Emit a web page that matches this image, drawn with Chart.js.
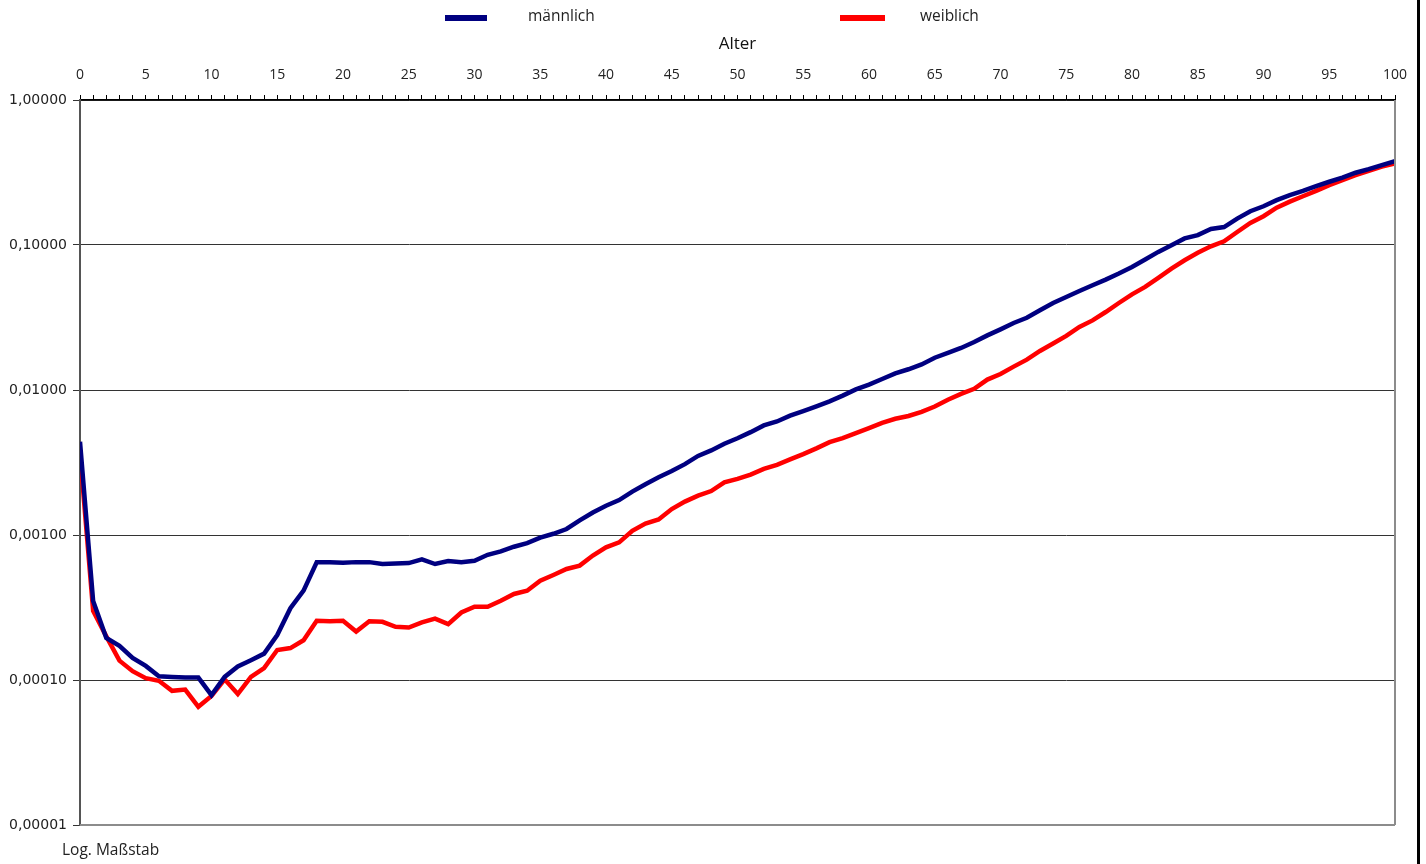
<!DOCTYPE html>
<html><head><meta charset="utf-8">
<script src="https://cdn.jsdelivr.net/npm/chart.js@4"></script>
<style>html,body{margin:0;padding:0;background:#fff;}#wrap{position:relative;width:1426px;height:864px;}</style>
</head><body><div id="wrap"><canvas id="c" width="1426" height="864"></canvas></div>
<script>
const ages = [0,1,2,3,4,5,6,7,8,9,10,11,12,13,14,15,16,17,18,19,20,21,22,23,24,25,26,27,28,29,30,31,32,33,34,35,36,37,38,39,40,41,42,43,44,45,46,47,48,49,50,51,52,53,54,55,56,57,58,59,60,61,62,63,64,65,66,67,68,69,70,71,72,73,74,75,76,77,78,79,80,81,82,83,84,85,86,87,88,89,90,91,92,93,94,95,96,97,98,99,100];
const maleRates = [0.0044,0.00035,0.000195,0.000172,0.000142,0.000125,0.000106,0.000105,0.000104,0.000104,0.0000787,0.000105,0.000124,0.000137,0.000152,0.000204,0.000313,0.000413,0.000648,0.000648,0.000643,0.00065,0.00065,0.000632,0.000635,0.00064,0.00068,0.000631,0.000662,0.00065,0.000665,0.00073,0.00077,0.00083,0.00088,0.00096,0.00102,0.0011,0.00126,0.00143,0.00159,0.00174,0.00199,0.00224,0.0025,0.00276,0.00308,0.00351,0.00383,0.00426,0.00465,0.00512,0.0057,0.00607,0.00665,0.00715,0.00772,0.00834,0.00915,0.0101,0.0109,0.0119,0.013,0.0139,0.015,0.0167,0.018,0.0195,0.0214,0.0238,0.0262,0.029,0.0315,0.0355,0.0398,0.0438,0.0482,0.0528,0.0577,0.0636,0.0706,0.0794,0.0896,0.0997,0.111,0.117,0.129,0.133,0.152,0.171,0.185,0.204,0.221,0.236,0.255,0.273,0.292,0.315,0.334,0.356,0.379];
const femaleRates = [0.0037,0.0003,0.0002,0.000136,0.000115,0.000103,0.0000987,0.0000842,0.0000859,0.0000653,0.0000777,0.000101,0.00008,0.000105,0.000121,0.000161,0.000166,0.000188,0.000256,0.000254,0.000256,0.000216,0.000254,0.000252,0.000233,0.00023,0.00025,0.000265,0.000243,0.000292,0.00032,0.00032,0.000352,0.000392,0.000413,0.000484,0.00053,0.000583,0.000615,0.000722,0.000822,0.00089,0.00107,0.0012,0.00128,0.00151,0.0017,0.00187,0.00201,0.00231,0.00244,0.00261,0.00286,0.00305,0.00332,0.00361,0.00396,0.00437,0.00466,0.00504,0.00546,0.00594,0.00633,0.00662,0.00707,0.0077,0.00857,0.0094,0.0102,0.0118,0.0129,0.0145,0.0162,0.0186,0.0209,0.0236,0.0272,0.0302,0.0345,0.0398,0.0457,0.0514,0.0593,0.0688,0.0785,0.0883,0.098,0.106,0.123,0.142,0.158,0.181,0.199,0.217,0.236,0.259,0.28,0.303,0.325,0.347,0.365];
const yTickValues = [1,0.1,0.01,0.001,0.0001,0.00001];
const xLabelValues = [0,5,10,15,20,25,30,35,40,45,50,55,60,65,70,75,80,85,90,95,100];
const seriesNames = ['männlich','weiblich'];
const xAxisTitle = 'Alter';
const scaleNote = 'Log. Maßstab';

const COLORS = ['#000080', '#ff0000'];

const decor = {
  id: 'decor',
  afterDraw(chart) {
    const ctx = chart.ctx, a = chart.chartArea;
    ctx.save();
    ctx.strokeStyle = '#8c8c8c'; ctx.lineWidth = 2;
    ctx.beginPath();
    ctx.moveTo(a.right, a.top); ctx.lineTo(a.right, a.bottom);
    ctx.moveTo(a.left, a.bottom); ctx.lineTo(a.right, a.bottom);
    ctx.stroke();
    ctx.strokeStyle = '#000'; ctx.lineWidth = 3;
    ctx.beginPath(); ctx.moveTo(1418.5, 0); ctx.lineTo(1418.5, 864); ctx.stroke();
    const items = [{x: 445, w: 42, tx: 528}, {x: 840, w: 45, tx: 920}];
    ctx.font = '15.5px "Open Sans"'; ctx.textBaseline = 'middle'; ctx.textAlign = 'left';
    items.forEach((it, i) => {
      ctx.fillStyle = COLORS[i];
      ctx.fillRect(it.x, 15, it.w, 6);
      ctx.fillStyle = '#222';
      ctx.fillText(seriesNames[i], it.tx, 17);
    });
    ctx.fillStyle = '#222';
    ctx.fillText(scaleNote, 62, 851);
    ctx.restore();
  }
};

new Chart(document.getElementById('c'), {
  type: 'line',
  data: {
    datasets: [
      {label: seriesNames[0], data: ages.map((a, i) => ({x: a, y: maleRates[i]})), borderColor: COLORS[0], borderWidth: 4.5, pointRadius: 0, tension: 0, fill: false},
      {label: seriesNames[1], data: ages.map((a, i) => ({x: a, y: femaleRates[i]})), borderColor: COLORS[1], borderWidth: 4.5, pointRadius: 0, tension: 0, fill: false}
    ]
  },
  options: {
    responsive: false,
    devicePixelRatio: 1,
    animation: false,
    layout: {padding: {left: 0, right: 31, top: 0, bottom: 39}},
    plugins: {legend: {display: false}, tooltip: {enabled: false}},
    scales: {
      x: {
        type: 'linear', position: 'top', min: 0, max: 100,
        afterFit(s) { s.height = 100; },
        ticks: {
          stepSize: 1, autoSkip: false, maxRotation: 0, padding: 12,
          color: '#222', font: {family: 'Open Sans', size: 14},
          callback: v => xLabelValues.includes(v) ? String(v) : ''
        },
        grid: {drawOnChartArea: false, drawTicks: true, tickLength: 5, color: '#000', lineWidth: 1},
        border: {display: true, color: '#000', width: 1.5},
        title: {display: true, text: xAxisTitle, color: '#111', font: {family: 'Open Sans', size: 17}, padding: {top: 34, bottom: 0}}
      },
      y: {
        type: 'logarithmic', min: 0.00001, max: 1,
        afterFit(s) { s.width = 80; },
        afterBuildTicks(s) { s.ticks = yTickValues.map(v => ({value: v})); },
        ticks: {
          autoSkip: false, padding: 6, color: '#222', font: {family: 'DejaVu Sans', size: 14},
          callback: v => Number(v).toFixed(5).replace('.', ',')
        },
        grid: {color: '#333', lineWidth: 1, tickLength: 7, drawTicks: true},
        border: {display: true, color: '#555', width: 2}
      }
    }
  },
  plugins: [decor]
});
</script>
</body></html>
